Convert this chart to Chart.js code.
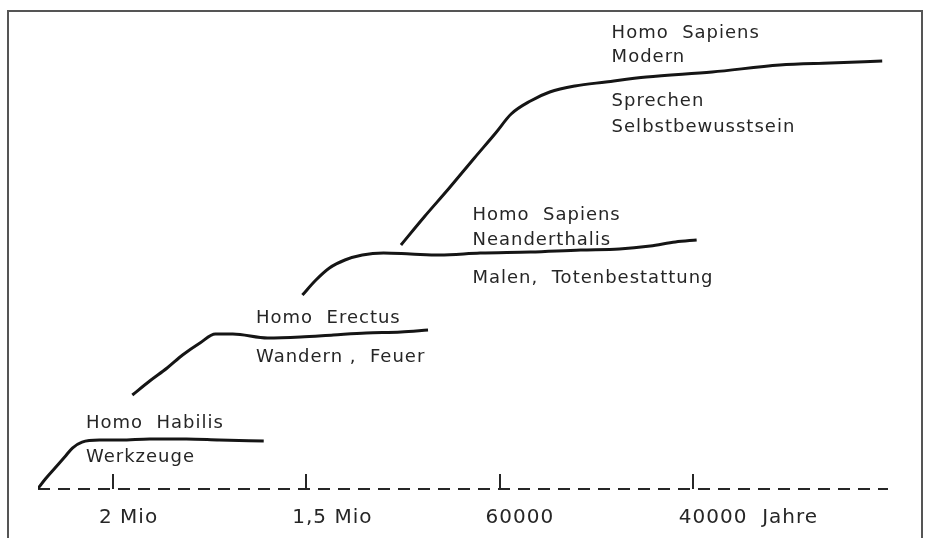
<!DOCTYPE html>
<html>
<head>
<meta charset="utf-8">
<script src="https://cdn.jsdelivr.net/npm/chart.js@4.4.1/dist/chart.umd.min.js"></script>
<style>
  html, body { margin: 0; padding: 0; background: #fff; }
  #wrap { position: relative; width: 928px; height: 538px; overflow: hidden; background: #fff; }
  #frame { position: absolute; left: 7px; top: 10px; width: 916px; height: 560px; border: 2px solid #555; box-sizing: border-box; }
  #chart { position: absolute; left: 0; top: 0; }
</style>
</head>
<body>
<div id="wrap">
  <div id="frame"></div>
  <canvas id="chart" width="928" height="538"></canvas>
</div>
<script>
// x = position on the (non linear) time line, ticks sit at 1..4
const tickPos = [1, 2, 3, 4];
const tickLabels = ['2 Mio', '1,5 Mio', '60000', '40000  Jahre'];

// level of development (0 = baseline)
const habilisX = [0.61, 0.65, 0.70, 0.75, 0.79, 0.84, 0.93, 1.04, 1.19, 1.38, 1.55, 1.78];
const habilisY = [0, 2.17, 4.57, 6.96, 8.91, 10.2, 10.65, 10.65, 10.87, 10.87, 10.65, 10.43];

const erectusX = [1.10, 1.19, 1.28, 1.36, 1.45, 1.53, 1.62, 1.80, 1.97, 2.14, 2.31, 2.49, 2.63];
const erectusY = [20.43, 23.48, 26.3, 29.13, 31.74, 33.7, 33.7, 32.83, 33.04, 33.48, 33.91, 34.13, 34.57];

const neanderX = [1.98, 2.05, 2.12, 2.20, 2.29, 2.40, 2.54, 2.69, 2.90, 3.16, 3.42, 3.62, 3.78, 3.91, 4.02];
const neanderY = [42.17, 45.43, 48.04, 49.78, 50.87, 51.3, 51.09, 50.87, 51.3, 51.52, 51.96, 52.17, 52.83, 53.7, 54.13];

const modernX = [2.49, 2.61, 2.74, 2.87, 2.98, 3.06, 3.16, 3.26, 3.39, 3.55, 3.76, 4.10, 4.45, 4.71, 4.98];
const modernY = [53.04, 59.13, 65.43, 71.96, 77.39, 81.52, 84.35, 86.3, 87.61, 88.48, 89.57, 90.65, 92.17, 92.61, 93.04];

// annotations (text, x, y in axis units)
const noteText = ['Homo  Sapiens', 'Modern', 'Sprechen', 'Selbstbewusstsein',
  'Homo  Sapiens', 'Neanderthalis', 'Malen,  Totenbestattung',
  'Homo  Erectus', 'Wandern ,  Feuer', 'Homo  Habilis', 'Werkzeuge'];
const noteX = [3.58, 3.58, 3.58, 3.58, 2.86, 2.86, 2.86, 1.74, 1.74, 0.86, 0.86];
const noteY = [99.13, 93.91, 84.35, 78.7, 59.57, 54.13, 45.87, 37.17, 28.7, 14.35, 6.96];

const ink = '#262626';
const fontFam = "'DejaVu Sans', sans-serif";

function pts(xs, ys) {
  return xs.map((x, i) => ({ x: x, y: ys[i] }));
}

function curve(xs, ys) {
  return {
    data: pts(xs, ys),
    borderColor: '#151515',
    borderWidth: 3,
    pointRadius: 0,
    fill: false,
    cubicInterpolationMode: 'monotone'
  };
}

const spacing = {
  id: 'spacing',
  beforeDraw: (chart) => {
    chart.ctx.letterSpacing = '1px';
  }
};

const notes = {
  id: 'notes',
  afterDatasetsDraw: (chart) => {
    const ctx = chart.ctx;
    const xs = chart.scales.x, ys = chart.scales.y;
    ctx.save();
    // upright tick marks on the time line
    ctx.strokeStyle = ink;
    ctx.lineWidth = 2;
    const base = ys.getPixelForValue(0);
    tickPos.forEach((v) => {
      const px = Math.round(xs.getPixelForValue(v));
      ctx.beginPath();
      ctx.moveTo(px, base);
      ctx.lineTo(px, base - 15);
      ctx.stroke();
    });
    ctx.fillStyle = ink;
    ctx.font = '18px ' + fontFam;
    ctx.textAlign = 'left';
    ctx.textBaseline = 'middle';
    for (let i = 0; i < noteText.length; i++) {
      ctx.fillText(noteText[i], xs.getPixelForValue(noteX[i]), ys.getPixelForValue(noteY[i]));
    }
    ctx.restore();
  }
};

new Chart(document.getElementById('chart').getContext('2d'), {
  type: 'line',
  data: {
    datasets: [
      curve(habilisX, habilisY),
      curve(erectusX, erectusY),
      curve(neanderX, neanderY),
      curve(modernX, modernY)
    ]
  },
  options: {
    responsive: false,
    animation: false,
    layout: { padding: { left: 38, right: 40, top: 29, bottom: 0 } },
    plugins: { legend: { display: false }, tooltip: { enabled: false } },
    scales: {
      x: {
        type: 'linear',
        min: 0.612,
        max: 5.01,
        afterBuildTicks: (s) => { s.ticks = tickPos.map(v => ({ value: v })); },
        afterFit: (s) => { s.height = 49; },
        grid: { display: false, drawTicks: false },
        border: { display: false },
        ticks: {
          autoSkip: false,
          maxRotation: 0,
          align: 'start',
          labelOffset: -14,
          padding: 17,
          color: ink,
          font: { family: fontFam, size: 20 },
          callback: (v) => tickLabels[tickPos.indexOf(v)]
        }
      },
      y: {
        min: 0,
        max: 100,
        afterFit: (s) => { s.width = 0; },
        ticks: { display: false },
        grid: {
          drawTicks: false,
          lineWidth: 2,
          color: (c) => (c.tick && c.tick.value === 0 ? ink : 'rgba(0,0,0,0)')
        },
        border: { display: false, dash: [12, 8] }
      }
    }
  },
  plugins: [spacing, notes]
});
</script>
</body>
</html>
